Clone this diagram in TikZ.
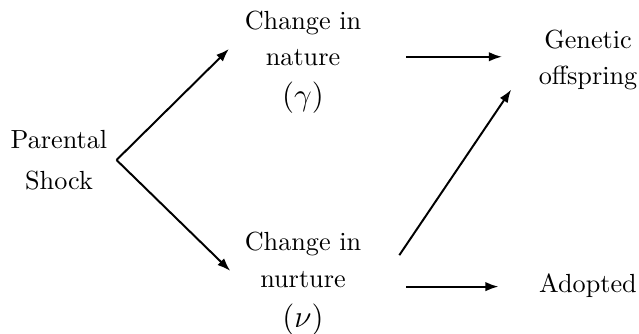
\documentclass[tikz,border=0pt]{standalone}
\usepackage{amsmath}
\usepackage{tikz}
\usetikzlibrary{
    arrows.meta,
    positioning
}
\tikzset{
  txt/.style  = {align=center, font=\fontsize{10}{14}\selectfont},
  arr/.style  = {-{Latex[length=5pt, width=3.6pt]}, line width=0.75pt}
}

\begin{document}
\begin{tikzpicture}[x=0.3817pt, y=0.3817pt]
  \useasboundingbox (0,0) rectangle (639,333);

  %% ── Nodes ─────────────────────────────────────────────────────
  \node[txt, font=\fontsize{10}{15.5}\selectfont] (shock) at (59,173) {Parental\\Shock};
  \node[txt] (nature)  at (303,271) {Change in\\nature\\[1pt]{\large$(\gamma)$}};
  \node[txt] (nurture) at (303, 49) {Change in\\nurture\\[1.5pt]{\large$(\nu)$}};
  \node[txt] (genetic) at (588,273) {Genetic\\offspring};
  \node[txt] (adopted) at (588, 47) {Adopted};

  %% ── Arrows from the shock ─────────────────────────────────────
  \draw[arr] (shock.east) -- ([xshift=-2.5pt, yshift=5pt]nature.west);
  \draw[arr] (shock.east) -- ([xshift=-2pt, yshift=5pt]nurture.west);

  %% ── Arrows to the offspring ───────────────────────────────────
  \draw[arr] ([xshift=13.7pt, yshift=2pt]nature.east)
          -- ([xshift=-10.5pt, yshift=2pt]genetic.west |- nature.east);
  \draw[arr] ([xshift=11pt, yshift=11pt]nurture.east)
          -- ([xshift=-7pt, yshift=3.8pt]genetic.south west);
  \draw[arr] ([xshift=13.7pt, yshift=-1pt]nurture.east)
          -- ([xshift=-12pt, yshift=-1pt]adopted.west |- nurture.east);

\end{tikzpicture}
\end{document}
